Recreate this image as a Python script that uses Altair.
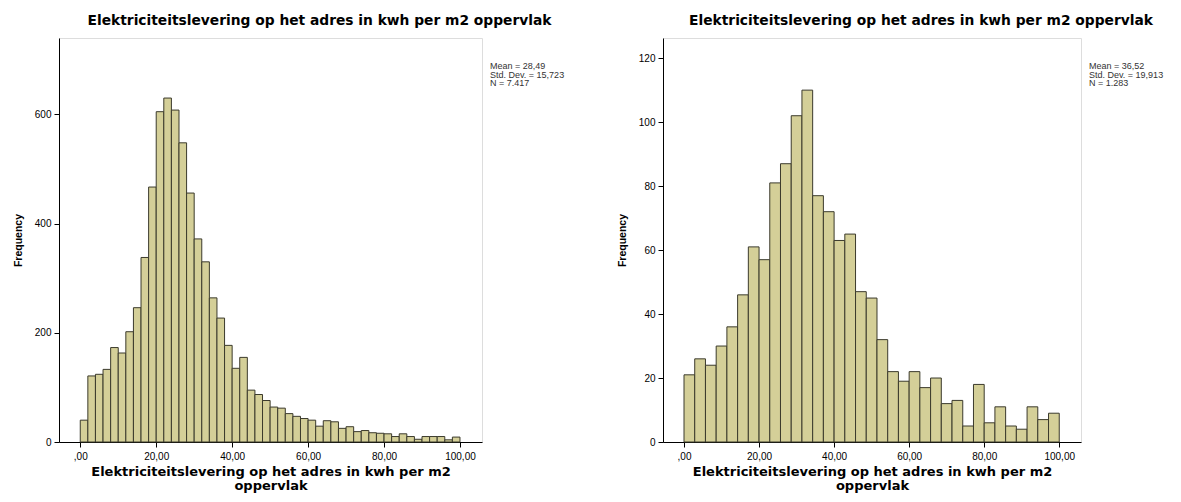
import altair as alt
import pandas as pd

# ---- data ----
left_counts = [40, 121, 124, 133, 173, 163, 202, 246, 338, 467,
               605, 630, 608, 548, 456, 372, 330, 264, 227, 177,
               135, 155, 95, 87, 76, 64, 62, 52, 47, 43,
               40, 29, 39, 37, 25, 28, 19, 21, 17, 16,
               15, 10, 15, 10, 5, 10, 10, 10, 4, 9]
right_counts = [21, 26, 24, 30, 36, 46, 61, 57, 81, 87,
                102, 110, 77, 72, 63, 65, 47, 45, 32, 22,
                19, 22, 17, 20, 12, 13, 5, 18, 6, 11,
                5, 4, 11, 7, 9]
range_max = 100.0
left_stats = ["Mean = 28,49", "Std. Dev. = 15,723", "N = 7.417"]
right_stats = ["Mean = 36,52", "Std. Dev. = 19,913", "N = 1.283"]
chart_title = "Elektriciteitslevering op het adres in kwh per m2 oppervlak"
x_title = ["Elektriciteitslevering op het adres in kwh per m2", "oppervlak"]
x_ticks = [0, 20, 40, 60, 80, 100]
left_y_ticks = [0, 200, 400, 600]
right_y_ticks = [0, 20, 40, 60, 80, 100, 120]

FONT = "Liberation Sans"
TFONT = "DejaVu Sans"
FILL = "#d4cf98"
STROKE = "#3b3a2c"


def make_df(counts):
    n = len(counts)
    w = range_max / n
    return pd.DataFrame({
        "start": [i * w for i in range(n)],
        "end": [(i + 1) * w for i in range(n)],
        "count": counts,
    })


def panel(counts, stats, yticks, ymax, width, height):
    df = make_df(counts)
    bars = alt.Chart(df).mark_rect(fill=FILL, stroke=STROKE, strokeWidth=1, opacity=1).encode(
        x=alt.X("start:Q",
                scale=alt.Scale(domain=[-5.6, 105.8], nice=False, zero=False),
                axis=alt.Axis(values=x_ticks, title=x_title, grid=False,
                              domainColor="black", tickColor="black",
                              labelExpr="datum.value == 0 ? ',00' : replace(format(datum.value, '.2f'), '.', ',')",
                              labelPadding=4, titlePadding=4, titleLineHeight=14,
                              titleFont=TFONT, titleFontSize=13)),
        x2="end:Q",
        y=alt.Y("count:Q",
                scale=alt.Scale(domain=[0, ymax], nice=False),
                axis=alt.Axis(values=yticks, title="Frequency", titlePadding=11, labelPadding=3,
                              titleFont=FONT, titleFontSize=10.5,
                              grid=False, domainColor="black", tickColor="black")),
        y2=alt.datum(0),
    )
    txt = alt.Chart(pd.DataFrame({"k": [0]})).mark_text(
        text=stats, align="left", baseline="top", fontSize=9, lineHeight=8.5,
        font=FONT, color="#333333"
    ).encode(x=alt.value(width + 8), y=alt.value(24))
    return alt.layer(bars, txt).properties(
        width=width, height=height,
        title=alt.TitleParams(text=chart_title, fontSize=13.8, font=TFONT, fontWeight="bold",
                              anchor="middle", frame="group", dx=49, offset=10, color="black"),
    )


left = panel(left_counts, left_stats, left_y_ticks, 740, 423, 404)
right = panel(right_counts, right_stats, right_y_ticks, 126.3, 418, 404)

chart = alt.hconcat(left, right, spacing=51).properties(
    padding={"left": 4, "top": 5, "right": 0, "bottom": 0}
).configure_view(
    fill="#f0f0f0", stroke="#8a8a8a", strokeWidth=1
).configure_axis(
    grid=False, domainColor="black", tickColor="black", tickSize=5,
    labelFont=FONT, labelFontSize=11.5, labelColor="#333333",
    titleFontWeight="bold", titleColor="black",
).configure(background="white")

chart.save("out.html", embed_options={"renderer": "svg", "actions": False})
